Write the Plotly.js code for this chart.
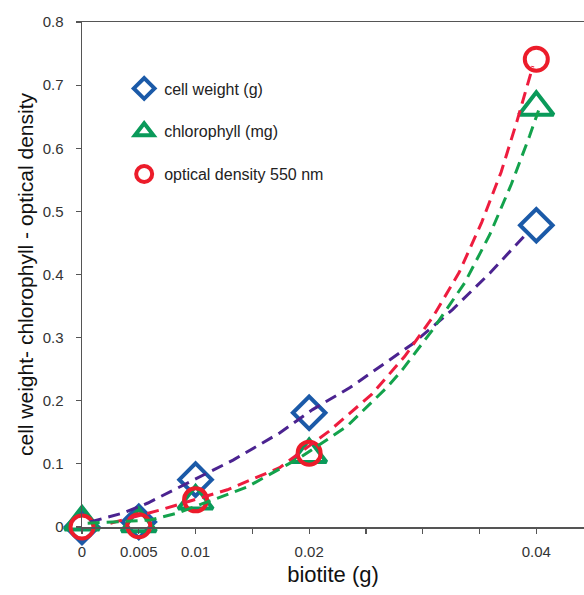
<!DOCTYPE html>
<html><head><meta charset="utf-8">
<script src="https://cdn.plot.ly/plotly-3.0.1.min.js"></script>
<style>html,body{margin:0;padding:0;background:#fff}#chart{width:584px;height:595px}</style>
</head><body><div id="chart"></div>
<script>
// measured points
const biotite = [0, 0.005, 0.01, 0.02, 0.04];
const cellWeight = [0, 0.008, 0.075, 0.181, 0.478];
const chlorophyll = [0.008, 0.005, 0.041, 0.115, 0.665];
const opticalDensity = [0, 0.002, 0.043, 0.117, 0.741];

// dashed trend curves, read point-by-point from the picture
const cellTrendX = [0.0007, 0.0036, 0.0058, 0.0133, 0.0174, 0.0203, 0.0236, 0.0291, 0.0326, 0.0359, 0.0391];
const cellTrendY = [0.008, 0.022, 0.038, 0.106, 0.149, 0.186, 0.221, 0.290, 0.344, 0.402, 0.464];
const chloroTrendX = [0.0005, 0.006, 0.0084, 0.0115, 0.0145, 0.0192, 0.0233, 0.0269, 0.0282, 0.0309, 0.0337, 0.0359, 0.0378, 0.0394, 0.0402];
const chloroTrendY = [0.006, 0.011, 0.022, 0.043, 0.063, 0.110, 0.159, 0.222, 0.249, 0.313, 0.387, 0.463, 0.543, 0.619, 0.66];
const odTrendX = [0.0025, 0.0069, 0.0128, 0.0174, 0.0217, 0.0255, 0.0284, 0.0309, 0.0332, 0.0352, 0.0369, 0.0383, 0.0397];
const odTrendY = [0.006, 0.027, 0.059, 0.094, 0.151, 0.210, 0.270, 0.333, 0.403, 0.483, 0.562, 0.643, 0.730];

const xTickVals = [0, 0.005, 0.01, 0.015, 0.02, 0.025, 0.03, 0.035, 0.04];
const xTickText = ['0', '0.005', '0.01', '', '0.02', '', '', '', '0.04'];

const names = ['cell weight (g)', 'chlorophyll (mg)', 'optical density 550 nm'];

const FONT = 'Liberation Sans, Arial, Helvetica, sans-serif';
const blue = '#1b5aa8', green = '#0a9a5a', red = '#ec1c2a';

const traces = [
  {x: biotite, y: cellWeight, name: names[0], legendgroup: 'a', mode: 'markers', type: 'scatter', cliponaxis: false,
   marker: {symbol: 'diamond-open', size: 25, color: blue, line: {color: blue, width: 4}}},
  {x: biotite, y: chlorophyll, name: names[1], legendgroup: 'b', mode: 'markers', type: 'scatter', cliponaxis: false,
   marker: {symbol: 'triangle-up-open', size: 30, color: green, line: {color: green, width: 4}}},
  {x: biotite, y: opticalDensity, name: names[2], legendgroup: 'c', mode: 'markers', type: 'scatter', cliponaxis: false,
   marker: {symbol: 'circle-open', size: 23, color: red, line: {color: red, width: 4}}},
  {x: cellTrendX, y: cellTrendY, mode: 'lines', type: 'scatter', showlegend: false, cliponaxis: false,
   line: {color: '#4b2390', width: 3, dash: '12px,7px'}},
  {x: odTrendX, y: odTrendY, mode: 'lines', type: 'scatter', showlegend: false, cliponaxis: false,
   line: {color: '#ee1c3e', width: 3, dash: '12px,7px'}},
  {x: chloroTrendX, y: chloroTrendY, mode: 'lines', type: 'scatter', showlegend: false, cliponaxis: false,
   line: {color: '#13a24c', width: 3, dash: '12px,7px'}}
];

const layout = {
  width: 584, height: 595,
  margin: {l: 82, r: 0, t: 22, b: 68},
  paper_bgcolor: '#ffffff', plot_bgcolor: '#ffffff',
  font: {family: FONT, color: '#333'},
  showlegend: true,
  legend: {x: 0.084, y: 0.902, xanchor: 'left', yanchor: 'top', font: {size: 16, color: '#222', family: FONT},
           tracegroupgap: 19, traceorder: 'grouped', bgcolor: 'rgba(0,0,0,0)'},
  xaxis: {
    range: [0, 0.0442], tickvals: xTickVals, ticktext: xTickText,
    showline: true, mirror: true, linecolor: '#555', linewidth: 1.5,
    ticks: 'outside', ticklen: 5, tickwidth: 1.2, tickcolor: '#555',
    showgrid: false, zeroline: false, ticklabelstandoff: 5,
    tickfont: {size: 15, color: '#333', family: FONT},
    title: {text: 'biotite (g)', font: {size: 22, color: '#111', family: FONT}, standoff: 8}
  },
  yaxis: {
    range: [0, 0.8], dtick: 0.1, tick0: 0,
    showline: true, linecolor: '#555', linewidth: 1.5,
    ticks: 'outside', ticklen: 5, tickwidth: 1.2, tickcolor: '#555',
    showgrid: false, zeroline: false, ticklabelstandoff: 9,
    tickfont: {size: 15, color: '#333', family: FONT},
    title: {text: 'cell weight- chlorophyll - optical density', font: {size: 21, color: '#111', family: FONT}, standoff: 3}
  }
};

Plotly.newPlot('chart', traces, layout, {displayModeBar: false, staticPlot: true});
</script>
</body></html>
